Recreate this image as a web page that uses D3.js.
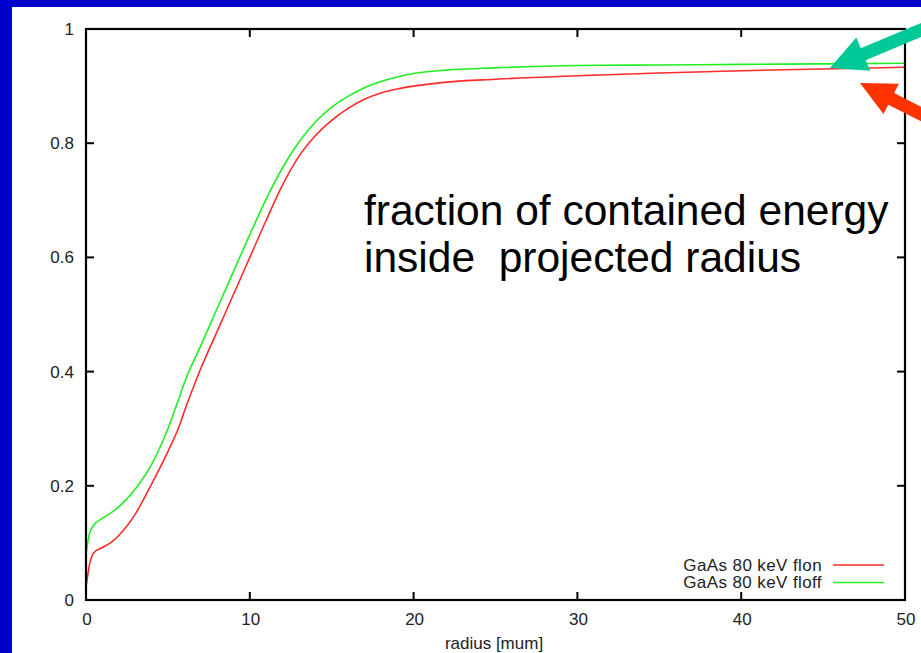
<!DOCTYPE html>
<html><head><meta charset="utf-8">
<script src="https://cdn.jsdelivr.net/npm/d3@7"></script>
<style>body{margin:0;background:#0000cc;overflow:hidden}svg{display:block}</style>
</head><body>
<script>
const radius = [0,0.2,0.45,1,1.5,2,3,4,5,5.7,6,7,8,9,10,11,12,13,14,15,16,17,18,19,20,22,25,30,35,40,45,50];
const flon  = [0.022,0.06,0.082,0.092,0.1,0.113,0.15,0.203,0.26,0.305,0.33,0.405,0.47,0.535,0.600,0.665,0.727,0.777,0.813,0.840,0.861,0.877,0.888,0.895,0.900,0.907,0.912,0.918,0.923,0.927,0.930,0.933];
const floff = [0.08,0.115,0.13,0.143,0.152,0.163,0.194,0.237,0.30,0.355,0.38,0.445,0.51,0.575,0.640,0.702,0.757,0.802,0.837,0.863,0.882,0.897,0.908,0.916,0.922,0.928,0.932,0.936,0.937,0.938,0.939,0.940];
const xTicks = [0,10,20,30,40,50];
const yTicks = [0,0.2,0.4,0.6,0.8,1];
const seriesNames = ["GaAs 80 keV flon","GaAs 80 keV floff"];
const seriesColors = ["#ff2a2a","#22ee22"];
const noteLines = ["fraction of contained energy","inside  projected radius"];
const xTitle = "radius [mum]";

const W=921,H=653;
const svg=d3.select("body").append("svg").attr("width",W).attr("height",H);
svg.append("rect").attr("width",W).attr("height",H).attr("fill","#0000cc");
svg.append("rect").attr("x",12).attr("y",7).attr("width",W).attr("height",H).attr("fill","#ffffff");

const L=86,R=905,T=29,B=600;
const x=d3.scaleLinear().domain([0,50]).range([L,R]);
const y=d3.scaleLinear().domain([0,1]).range([B,T]);
const font="'Liberation Sans', Arial, Helvetica, sans-serif";

// curves
const line=d3.line().x((d,i)=>x(radius[i])).y(d=>y(d)).curve(d3.curveMonotoneX);
[flon,floff].forEach((s,k)=>{
  svg.append("path").attr("d",line(s)).attr("fill","none").attr("stroke",seriesColors[k]).attr("stroke-width",1.6);
});

// frame + ticks (inward, mirrored)
const g=svg.append("g").attr("font-family",font).attr("font-size",17).attr("fill","#222");
g.append("rect").attr("x",L).attr("y",T).attr("width",R-L).attr("height",B-T).attr("fill","none").attr("stroke","#000").attr("stroke-width",2.2);
xTicks.forEach(t=>{
  g.append("line").attr("x1",x(t)).attr("x2",x(t)).attr("y1",B).attr("y2",B-8).attr("stroke","#000").attr("stroke-width",2);
  g.append("line").attr("x1",x(t)).attr("x2",x(t)).attr("y1",T).attr("y2",T+8).attr("stroke","#000").attr("stroke-width",2);
  g.append("text").attr("x",x(t)+1).attr("y",625).attr("text-anchor","middle").text(d3.format("d")(t));
});
yTicks.forEach(t=>{
  g.append("line").attr("x1",L).attr("x2",L+8).attr("y1",y(t)).attr("y2",y(t)).attr("stroke","#000").attr("stroke-width",2);
  g.append("line").attr("x1",R).attr("x2",R-8).attr("y1",y(t)).attr("y2",y(t)).attr("stroke","#000").attr("stroke-width",2);
  g.append("text").attr("x",74).attr("y",y(t)).attr("dy","0.35em").attr("text-anchor","end").text(t===0?"0":t===1?"1":d3.format(".1f")(t));
});
g.append("text").attr("x",494).attr("y",649).attr("text-anchor","middle").text(xTitle);

// legend
seriesNames.forEach((n,k)=>{
  const yy=565+k*17.5;
  g.append("text").attr("x",822).attr("y",yy).attr("dy","0.35em").attr("text-anchor","end").attr("letter-spacing",0.4).text(n);
  g.append("line").attr("x1",833).attr("x2",884).attr("y1",yy).attr("y2",yy).attr("stroke",seriesColors[k]).attr("stroke-width",1.6);
});

// annotation text
noteLines.forEach((t,i)=>{
  svg.append("text").attr("x",364).attr("y",225+i*47).attr("font-family",font).attr("font-size",42.5)
    .attr("fill","#000").style("white-space","pre").text(t);
});

// arrows
function arrow(tip,dir,headLen,headHalf,shaftHalf,len,color){
  const m=Math.hypot(dir[0],dir[1]);const u=[dir[0]/m,dir[1]/m];const n=[-u[1],u[0]];
  const b=[tip[0]+u[0]*headLen,tip[1]+u[1]*headLen];
  const e=[tip[0]+u[0]*len,tip[1]+u[1]*len];
  const P=(p,s)=>[p[0]+n[0]*s,p[1]+n[1]*s];
  const pts=[tip,P(b,headHalf),P(b,shaftHalf),P(e,shaftHalf),P(e,-shaftHalf),P(b,-shaftHalf),P(b,-headHalf)];
  svg.append("path").attr("d","M"+pts.map(p=>p.join(",")).join("L")+"Z").attr("fill",color);
}
arrow([830,68],[91,-38],36,18,6.5,140,"#00c896");
arrow([860,83],[31.5,16],35,17,6.5,140,"#ff3300");
</script>
</body></html>
